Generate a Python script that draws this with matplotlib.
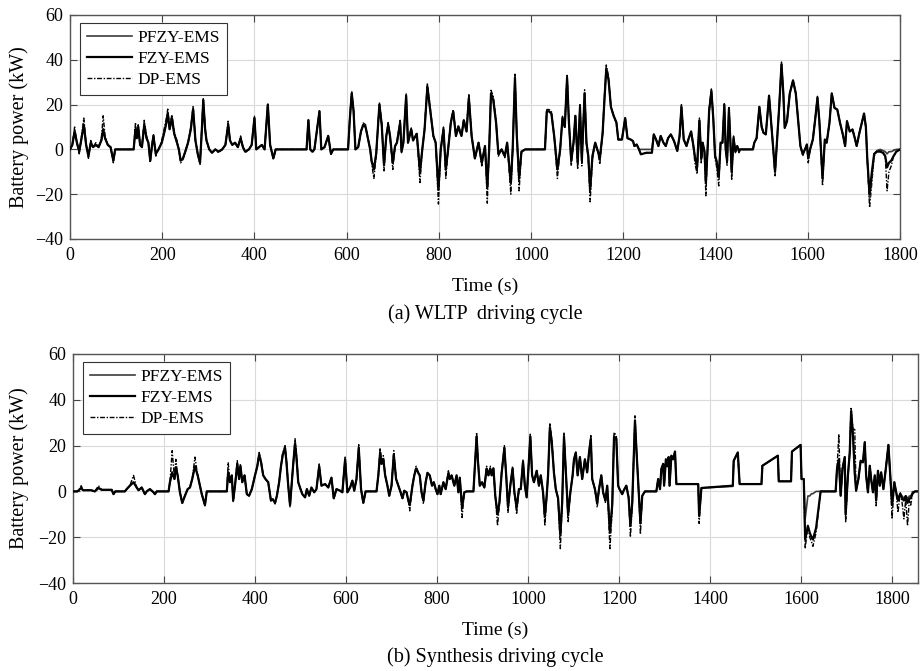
import matplotlib
matplotlib.use('Agg')
import matplotlib.pyplot as plt

plt.rcParams['font.family'] = ['Liberation Serif', 'DejaVu Serif']

# ---------------- (a) WLTP driving cycle ----------------
wltp_t = [0, 5, 10, 15, 20, 25, 30, 35, 40, 45,
          50, 56, 62, 68, 72, 76, 82, 88, 94, 98,
          138, 142, 145, 148, 152, 156, 161, 166, 170, 174,
          178, 181, 186, 192, 199, 205, 209, 212, 216, 221,
          226, 232, 236, 240, 245, 250, 256, 262, 267, 272,
          277, 282, 286, 289, 293, 296, 302, 308, 315, 322,
          330, 337, 343, 347, 352, 358, 364, 370, 375, 380,
          388, 394, 400, 404, 410, 416, 422, 429, 434, 441,
          446, 513, 517, 521, 526, 530, 541, 545, 552, 560,
          566, 571, 603, 607, 611, 615, 619, 625, 631, 636,
          641, 646, 651, 654, 659, 664, 671, 676, 681, 686,
          690, 694, 700, 705, 709, 716, 719, 723, 729, 733,
          740, 744, 752, 759, 764, 769, 775, 781, 788, 793,
          799, 804, 810, 815, 820, 826, 831, 837, 842, 849,
          854, 860, 865, 871, 878, 886, 893, 900, 905, 909,
          913, 918, 924, 929, 936, 943, 948, 956, 960, 965,
          969, 974, 979, 987, 1030, 1034, 1039, 1044, 1050, 1057,
          1063, 1068, 1073, 1078, 1082, 1087, 1092, 1096, 1101, 1106,
          1110, 1116, 1120, 1124, 1128, 1133, 1139, 1145, 1149, 1155,
          1159, 1163, 1168, 1173, 1179, 1185, 1189, 1197, 1204, 1209,
          1216, 1221, 1224, 1229, 1234, 1238, 1250, 1262, 1266, 1271,
          1276, 1281, 1287, 1292, 1297, 1303, 1310, 1317, 1322, 1326,
          1331, 1337, 1341, 1347, 1352, 1355, 1360, 1365, 1369, 1372,
          1376, 1379, 1383, 1386, 1391, 1395, 1399, 1402, 1407, 1411,
          1415, 1419, 1422, 1425, 1429, 1433, 1435, 1439, 1443, 1447,
          1451, 1453, 1481, 1484, 1489, 1495, 1500, 1504, 1509, 1516,
          1523, 1529, 1534, 1538, 1543, 1547, 1550, 1555, 1561, 1568,
          1574, 1579, 1584, 1589, 1594, 1598, 1601, 1605, 1611, 1616,
          1621, 1625, 1629, 1632, 1637, 1641, 1647, 1652, 1658, 1664,
          1670, 1676, 1681, 1685, 1691, 1697, 1702, 1706, 1712, 1717,
          1722, 1726, 1729, 1734, 1739, 1744, 1750, 1757, 1763, 1768,
          1772, 1776, 1781, 1786, 1792, 1800]

wltp_dp = [0, 2, 10, 3, -2, 6, 14, 2, -4, 4,
           1, 3, 1, 5, 15, 6, 2, 1, -6, 0,
           0, 12, 6, 11, 2, 1, 13, 6, 3, -6,
           2, 7, -3, 0, 4, 10, 14, 18, 10, 15.5,
           8, 4, 0, -6, -4.5, -1, 3, 10, 19.5, 4.4,
           -2, -6.7, 10, 23, 10, 4, 0, -1.5, 0, -1.5,
           0, 2, 12.6, 4, 2, 3, 1, 6, 1, -1.5,
           0, 2, 14.8, 0, 1, 2, 0, 20.7, 2, -4.4,
           0, 0, 13.6, 0, -1.5, 0, 17.3, 0, 1, 6.2,
           -2.2, 0, 0, 15, 26, 18, 0, 1, 8, 11.8,
           11, 5, 0, -6, -13, -3, 21, 12, -9.6, 6,
           12, 6, -9, 1.5, 3, 13, -1.5, 3, 25, 3,
           9.6, 4, 7.4, -14.8, 0, 10, 29.6, 19, 6, 3,
           -24.4, 0, 10, -13, 0, 13, 17.8, 6, 11, 6.7,
           13.3, 8.9, 24.4, 6, -4.4, 3, -7.4, 1.5, -24, 0,
           26.4, 23.7, 13, -3, 0, -3.7, 3, -20, 0, 33.6,
           6, -18.5, -1.5, 0, 0, 17.8, 17.8, 17, 6, -13,
           0, 14.8, 10, 33.6, 13, -7.4, 3, 15.5, -8.9, 20,
           -7.4, 26.6, 3, -4.4, -23.4, -4.4, 3, -1.5, -6.7, 7.4,
           23.7, 37.7, 32.6, 19, 14.8, 11.8, 4.4, 4.4, 14, 5,
           4.4, 3.7, 1.5, 2.2, 0, -2.2, -1.5, -1.5, 6.7, 4.4,
           1.5, 6, 3, 1.5, 5, 6.7, 3.7, -0.7, 6, 20,
           4.4, 1.5, 4.4, 8, 1.5, -6, -11, 14, -6, 3,
           -1.5, -20.7, 1.5, 17.8, 27, 14.8, -4.4, -7.4, -16.3, 3,
           3, 20.4, 0, -7.4, 19.2, 0, -13.8, 6, -1.5, 1.5,
           -1.5, 0, 0, 3, 5, 19, 10, 7.4, 6.7, 24,
           6, -11.8, 6, 19, 39, 25, 9.6, 12.6, 25, 30.8,
           25, 13.3, 1.5, -3, 0, 2.2, -6, 0, 4.4, 13.3,
           23.7, 13.3, -3, -16.3, 4.4, 3, 11.8, 25, 18.5, 17.8,
           11.8, 6.7, 1.5, 12.6, 8, 8.9, 5, 1.5, 7.4, 11.8,
           16, 10, -4.4, -26, -14.8, -3, -0.7, -0.3, -0.7, -3,
           -18.5, -10, -7.4, -3, -1, 0]

wltp_fzy = [0, 2, 8, 3, -1, 5, 11, 2, -3, 3,
            1, 2, 1, 4, 9, 5, 2, 1, -5, 0,
            0, 9, 5, 10, 2, 1, 11, 5, 3, -5,
            2, 6, -2, 0, 3, 8, 12, 16, 9, 14,
            7, 3, 0, -5, -4, -1, 3, 9, 18, 4,
            -2, -6, 9, 22, 9, 4, 0, -1.5, 0, -1,
            0, 2, 11, 4, 2, 3, 1, 5, 1, -1,
            0, 2, 14, 0, 1, 2, 0, 20, 2, -4,
            0, 0, 13, 0, -1, 0, 17, 0, 1, 6,
            -2, 0, 0, 14, 25, 17, 0, 1, 8, 11,
            10, 5, 0, -5, -9, -2, 20, 11, -7, 6,
            11, 6, -6, 1.5, 3, 12, -1, 3, 24, 3,
            9, 4, 7, -10, 0, 9, 28, 18, 6, 3,
            -18, 0, 9, -9, 0, 12, 17, 6, 10, 6,
            13, 8, 23, 6, -4, 3, -6, 1.5, -17, 0,
            25, 22, 12, -2, 0, -3, 3, -15, 0, 32,
            6, -13, -1, 0, 0, 17, 17, 16, 6, -9,
            0, 14, 10, 32, 12, -5, 3, 15, -6, 19,
            -5, 25, 3, -3, -18, -3, 3, -1, -4, 7,
            22, 36, 31, 19, 15, 12, 4.4, 4.4, 14, 5,
            4.4, 3.7, 1.5, 2.2, 0, -2.2, -1.5, -1.5, 6.7, 4.4,
            1.5, 6, 3, 1.5, 5, 6.7, 3.7, -0.7, 6, 19,
            4.4, 1.5, 4.4, 8, 1.5, -3, -8, 13, -4, 3,
            -1, -15, 1.5, 17, 26, 14, -3, -5, -12, 3,
            3, 20, 0, -5, 18, 0, -10, 5, -1, 1.5,
            -1, 0, 0, 3, 5, 19, 10, 7.4, 6.7, 24,
            6, -10, 6, 19, 38, 25, 9.6, 12.6, 25, 30.8,
            25, 13.3, 1.5, -2, 0, 2.2, -4, 0, 4.4, 13.3,
            23, 13, -2, -13, 4.4, 3, 11.8, 25, 18.5, 17.8,
            11.8, 6.7, 1.5, 12.6, 8, 8.9, 5, 1.5, 7.4, 11.8,
            16, 10, -4, -20, -10, -2, -1, -1, -1.5, -3,
            -8, -6, -5, -3, -1, 0]

wltp_pfzy = [0, 2, 8, 3, -1, 5, 11, 2, -3, 3,
             1, 2, 1, 4, 9, 5, 2, 1, -5, 0,
             0, 9, 5, 10, 2, 1, 11, 5, 3, -5,
             2, 6, -2, 0, 3, 8, 12, 16, 9, 14,
             7, 3, 0, -5, -4, -1, 3, 9, 18, 4,
             -2, -6, 9, 22, 9, 4, 0, -1.5, 0, -1,
             0, 2, 11, 4, 2, 3, 1, 5, 1, -1,
             0, 2, 14, 0, 1, 2, 0, 20, 2, -4,
             0, 0, 13, 0, -1, 0, 17, 0, 1, 6,
             -2, 0, 0, 14, 25, 17, 0, 1, 8, 11,
             10, 5, 0, -5, -9, -2, 20, 11, -7, 6,
             11, 6, -6, 1.5, 3, 12, -1, 3, 24, 3,
             9, 4, 7, -10, 0, 9, 28, 18, 6, 3,
             -18, 0, 9, -9, 0, 12, 17, 6, 10, 6,
             13, 8, 23, 6, -4, 3, -6, 1.5, -17, 0,
             25, 22, 12, -2, 0, -3, 3, -15, 0, 32,
             6, -13, -1, 0, 0, 17, 17, 16, 6, -9,
             0, 14, 10, 32, 12, -5, 3, 15, -6, 19,
             -5, 25, 3, -3, -18, -3, 3, -1, -4, 7,
             22, 36, 31, 19, 15, 12, 4.4, 4.4, 14, 5,
             4.4, 3.7, 1.5, 2.2, 0, 0, 0, 0, 6.7, 4.4,
             1.5, 6, 3, 1.5, 5, 6.7, 3.7, -0.7, 6, 19,
             4.4, 1.5, 4.4, 8, 1.5, -3, -8, 13, -4, 3,
             -1, -15, 1.5, 17, 26, 14, -3, -5, -12, 3,
             3, 20, 0, -5, 18, 0, -10, 5, -1, 1.5,
             -1, 0, 0, 3, 5, 19, 10, 7.4, 6.7, 24,
             6, -10, 6, 19, 38, 25, 9.6, 12.6, 25, 30.8,
             25, 13.3, 1.5, -2, 0, 2.2, -4, 0, 4.4, 13.3,
             23, 13, -2, -13, 4.4, 3, 11.8, 25, 18.5, 17.8,
             11.8, 6.7, 1.5, 12.6, 8, 8.9, 5, 1.5, 7.4, 11.8,
             16, 10, -4, -22, -12, -2, -0.5, 0, -0.5, -1,
             -2, -1, -1, -0.5, 0, 0]

# ---------------- (b) Synthesis driving cycle ----------------
syn_t = [0, 10, 15, 18, 22, 30, 40, 48, 56, 63,
         85, 89, 93, 114, 118, 125, 133, 140, 144, 151,
         158, 162, 169, 177, 180, 184, 210, 213, 218, 223,
         226, 230, 235, 240, 246, 252, 257, 262, 268, 274,
         279, 283, 290, 294, 338, 341, 345, 349, 352, 356,
         361, 365, 368, 372, 377, 382, 387, 393, 400, 405,
         409, 413, 418, 423, 429, 435, 439, 444, 448, 453,
         457, 461, 466, 469, 473, 477, 480, 484, 488, 491,
         495, 500, 504, 510, 514, 519, 524, 530, 535, 541,
         546, 554, 561, 568, 573, 579, 587, 592, 598, 603,
         609, 614, 618, 623, 628, 633, 638, 643, 660, 667,
         671, 675, 678, 682, 686, 691, 695, 700, 705, 710,
         715, 720, 724, 728, 733, 737, 740, 746, 750, 754,
         759, 762, 766, 770, 775, 779, 784, 789, 793, 797,
         801, 805, 808, 814, 819, 825, 828, 832, 838, 843,
         847, 850, 855, 860, 865, 880, 883, 887, 890, 894,
         899, 904, 909, 913, 917, 920, 924, 928, 933, 937,
         942, 948, 952, 956, 961, 966, 970, 975, 980, 984,
         989, 993, 997, 1000, 1005, 1009, 1013, 1019, 1024, 1028,
         1033, 1037, 1041, 1044, 1048, 1052, 1057, 1061, 1066, 1071,
         1075, 1079, 1084, 1088, 1093, 1098, 1101, 1105, 1109, 1114,
         1119, 1125, 1130, 1134, 1138, 1141, 1147, 1152, 1156, 1161,
         1165, 1170, 1174, 1180, 1185, 1189, 1194, 1198, 1201, 1207,
         1210, 1216, 1221, 1225, 1229, 1235, 1238, 1243, 1247, 1251,
         1257, 1282, 1286, 1290, 1293, 1297, 1299, 1303, 1306, 1309,
         1311, 1315, 1319, 1323, 1326, 1374, 1376, 1378, 1381, 1450,
         1452, 1461, 1465, 1513, 1515, 1549, 1551, 1578, 1580, 1599,
         1601, 1606, 1609, 1615, 1619, 1623, 1626, 1633, 1643, 1676,
         1679, 1683, 1687, 1691, 1696, 1698, 1703, 1707, 1710, 1714,
         1718, 1721, 1726, 1731, 1736, 1740, 1743, 1747, 1751, 1754,
         1758, 1762, 1765, 1769, 1773, 1776, 1781, 1787, 1792, 1796,
         1800, 1805, 1809, 1813, 1818, 1822, 1826, 1830, 1834, 1838,
         1841, 1845, 1850, 1857]

syn_dp = [0, 0, 1, 2.5, 0.5, 0.5, 0.5, 0, 2.5, 0.7,
          0.7, -1.2, 0, 0, 1, 2.5, 7, 1.7, 0.5, 1.7,
          -1.2, 0, 1, -0.4, -1.2, 0, 0, 4, 17.8, 5.4,
          14, 7, -0.4, -5.5, -1.9, 1, 1.7, 5.4, 15, 7,
          2.5, -1.2, -6.3, 0, 0, 12.7, 4, 7, -4.8, 2.5,
          13.4, 5.4, 12, 4, 7, -1.2, -1.9, 1, 7, 11,
          17, 14, 7, 5.4, 4, -4, -3.4, -5.5, -2, 4,
          11, 17, 20, 14, 2.5, -7, 1.7, 12.7, 23, 17,
          4, 1, -1.2, -2.6, 1, -1.9, 1.7, -0.4, 1, 12,
          2.5, 3.2, 1.7, 6, -3.4, 1, 0.3, -0.4, 15, -0.4,
          1.7, 4.7, 0.3, 5.4, 20.4, 1, -5.3, 0, 0, 0,
          7, 19, 12.7, 15.6, 7, 2.5, -1.9, 2.5, 17.8, 5.4,
          2.5, -0.4, -3.4, 0.3, -0.4, -4, -8.5, 2.5, 7, 11,
          8.3, 7, -0.4, -5.5, 4, 8.3, 7, 2.5, 4, 1,
          -1.2, 2.5, -1.2, 4, 1, 9, 5.4, 7, 2.5, 7,
          -0.4, 6, -11.4, -0.4, 0, 0, 11, 25.8, 14, 2.5,
          4, 1.7, 11, 7, 11, 7, 10.5, -1.9, -15, -6.3,
          8.3, 20, 7, -9.2, 2.5, 11, -0.4, -10, 1, 1,
          14, 2.5, -2.6, 7, 25, 7, 4, 9, 2.5, 7,
          -0.4, -15, -1.9, 7, 29.5, 23, 8.3, 1, -3.4, -25,
          -6.3, 25.8, 5.4, -13.6, -0.4, 7, 14, 17, 7, 15,
          5.4, 14, 8.3, 17, 24.4, 5.4, 1, -7, 1, 7,
          -0.4, -4.8, 2.5, -25, -7.7, 25.8, 24.4, 2.5, 1, -1.2,
          0.3, 2.5, -2.6, -20, -6.3, 33, 20, 0.3, -18.7, -1.9,
          0, 0, 5.4, 1, 9.8, 12, 2.5, 14, 11, 15,
          2.5, 15.6, 14, 17.4, 3.2, 3.2, -14, -8, 1.5, 2.5,
          13.4, 17, 3.2, 3.2, 11.2, 15.6, 4.4, 4.4, 17.4, 20.3,
          5.4, 5.4, -25, -15, -20, -22, -24, -18, 0, 0,
          9.8, 25, -1.9, 9.8, 15, -13.6, 7, 17, 36.8, 27.3,
          27, 0.3, 5.4, 13.4, 12.7, 21.5, 7, -0.4, 11.2, 5.4,
          -0.4, 7, -6.3, 9, 2.5, 8.3, 1, 11.2, 20.3, 7,
          -12, 4, -0.4, -9.2, -0.4, -4.8, -12, -3.4, -15, -3.4,
          -6, -0.4, 0, 0]

syn_fzy = [0, 0, 1, 1.5, 0.5, 0.5, 0.5, 0, 1.5, 0.7,
           0.7, -1.2, 0, 0, 1, 2.5, 4, 1.7, 0.5, 1.7,
           -1.2, 0, 1, -0.4, -1.2, 0, 0, 4, 8.3, 5.4,
           10.5, 7, -0.4, -5, -1.9, 1, 1.7, 5.4, 11, 7,
           2.5, -1.2, -6, 0, 0, 8.3, 4, 7, -4, 2.5,
           12, 5.4, 11, 4, 7, -1.2, -1.9, 1, 7, 11,
           16, 13, 7, 5.4, 4, -4, -3.4, -5, -2, 4,
           11, 16, 19, 13, 2.5, -6, 1.7, 12, 21, 15,
           4, 1, -1.2, -2.6, 1, -1.9, 1.7, -0.4, 1, 11,
           2.5, 3.2, 1.7, 6, -3, 1, 0.3, -0.4, 14, -0.4,
           1.7, 4.7, 0.3, 5.4, 19, 1, -5, 0, 0, 0,
           7, 17, 12, 14, 7, 2.5, -1.9, 2.5, 16, 5.4,
           2.5, -0.4, -3, 0.3, -0.4, -4, -6, 2.5, 7, 10,
           8, 7, -0.4, -4, 4, 8, 7, 2.5, 4, 1,
           -1.2, 2.5, -1.2, 4, 1, 8, 5.4, 7, 2.5, 7,
           -0.4, 6, -7, -0.4, 0, 0, 10, 24, 13, 2.5,
           4, 1.7, 10, 7, 10, 7, 10, -1.9, -10, -5,
           8, 19, 7, -7, 2.5, 10, -0.4, -7, 1, 1,
           13, 2.5, -2.6, 7, 24, 7, 4, 9, 2.5, 7,
           -0.4, -11, -1.9, 7, 28, 22, 8, 1, -3, -19,
           -5, 24, 5.4, -10, -0.4, 7, 14, 17, 7, 15,
           5.4, 14, 8.3, 17, 23, 5.4, 1, -5, 1, 7,
           -0.4, -4, 2.5, -18, -6, 24, 23, 2.5, 1, -1.2,
           0.3, 2.5, -2.6, -15, -5, 31, 19, 0.3, -14, -1.9,
           0, 0, 5.4, 1, 9.8, 12, 2.5, 14, 11, 15,
           2.5, 15.6, 14, 17.4, 3.2, 3.2, -10.7, -6, 1.5, 2.5,
           13.4, 17, 3.2, 3.2, 11.2, 15.6, 4.4, 4.4, 17.4, 20.3,
           5.4, 5.4, -21, -15, -18, -20, -21, -16, 0, 0,
           9.8, 14, -1.9, 9.8, 15, -10, 7, 17, 35, 25,
           8, 0.3, 5.4, 13.4, 12.7, 21.5, 7, -0.4, 11.2, 5.4,
           -0.4, 7, -4, 9, 2.5, 8.3, 1, 11.2, 20.3, 7,
           -6, 4, -0.4, -4, -1, -3, -4, -2, -5, -3,
           -3, -1, 0, 0]

syn_pfzy = [0, 0, 1, 1.5, 0.5, 0.5, 0.5, 0, 1.5, 0.7,
            0.7, -1.2, 0, 0, 1, 2.5, 4, 1.7, 0.5, 1.7,
            -1.2, 0, 1, -0.4, -1.2, 0, 0, 4, 8.3, 5.4,
            10.5, 7, -0.4, -5, -1.9, 1, 1.7, 5.4, 11, 7,
            2.5, -1.2, -6, 0, 0, 8.3, 4, 7, -4, 2.5,
            12, 5.4, 11, 4, 7, -1.2, -1.9, 1, 7, 11,
            16, 13, 7, 5.4, 4, -4, -3.4, -5, -2, 4,
            11, 16, 19, 13, 2.5, -6, 1.7, 12, 21, 15,
            4, 1, -1.2, -2.6, 1, -1.9, 1.7, -0.4, 1, 11,
            2.5, 3.2, 1.7, 6, -3, 1, 0.3, -0.4, 14, -0.4,
            1.7, 4.7, 0.3, 5.4, 19, 1, -5, 0, 0, 0,
            7, 17, 12, 14, 7, 2.5, -1.9, 2.5, 16, 5.4,
            2.5, -0.4, -3, 0.3, -0.4, -4, -6, 2.5, 7, 10,
            8, 7, -0.4, -4, 4, 8, 7, 2.5, 4, 1,
            -1.2, 2.5, -1.2, 4, 1, 8, 5.4, 7, 2.5, 7,
            -0.4, 6, -7, -0.4, 0, 0, 10, 24, 13, 2.5,
            4, 1.7, 10, 7, 10, 7, 10, -1.9, -10, -5,
            8, 19, 7, -7, 2.5, 10, -0.4, -7, 1, 1,
            13, 2.5, -2.6, 7, 24, 7, 4, 9, 2.5, 7,
            -0.4, -11, -1.9, 7, 28, 22, 8, 1, -3, -19,
            -5, 24, 5.4, -10, -0.4, 7, 14, 17, 7, 15,
            5.4, 14, 8.3, 17, 23, 5.4, 1, -5, 1, 7,
            -0.4, -4, 2.5, -18, -6, 24, 23, 2.5, 1, -1.2,
            0.3, 2.5, -2.6, -15, -5, 31, 19, 0.3, -14, -1.9,
            0, 0, 5.4, 1, 9.8, 12, 2.5, 14, 11, 15,
            2.5, 15.6, 14, 17.4, 3.2, 3.2, -10.7, -6, 1.5, 2.2,
            13.4, 17, 3.2, 3.2, 11.2, 15.6, 4.4, 4.4, 17.4, 20.3,
            5.4, 5.4, -12, -2, -2, -1, -1, 0, 0, 0,
            9.8, 14, -1.9, 9.8, 15, -10, 7, 17, 35, 25,
            8, 0.3, 5.4, 13.4, 12.7, 21.5, 7, -0.4, 11.2, 5.4,
            -0.4, 7, -4, 9, 2.5, 8.3, 1, 11.2, 20.3, 7,
            -6, 4, -0.4, -3, -1, -2, -3, -2, -3, -2,
            -2, -0.5, 0, 0]

series_labels = ['PFZY-EMS', 'FZY-EMS', 'DP-EMS']
x_ticks = [0, 200, 400, 600, 800, 1000, 1200, 1400, 1600, 1800]
y_ticks = [-40, -20, 0, 20, 40, 60]
y_ticklabels = ['\u221240', '\u221220', '0', '20', '40', '60']

W, H = 921, 671
fig = plt.figure(figsize=(W / 100, H / 100), dpi=100)


def px_axes(l, t, r, b):
    return fig.add_axes([l / W, 1 - b / H, (r - l) / W, (b - t) / H])


def draw(ax, t, pf, fz, dp, xmax, wpx, hpx):
    ax.plot(t, dp, color='black', lw=1.0, linestyle=(0, (3.5, 1.2, 1, 1.2)),
            label=series_labels[2], zorder=2)
    ax.plot(t, pf, color='#3c3c3c', lw=1.2, label=series_labels[0], zorder=3)
    ax.plot(t, fz, color='black', lw=1.6, label=series_labels[1], zorder=4)
    ax.set_xlim(0, xmax)
    ax.set_ylim(-40, 60)
    ax.set_xticks(x_ticks)
    ax.set_yticks(y_ticks)
    ax.set_yticklabels(y_ticklabels)
    ax.grid(True, color='#dadada', lw=0.8)
    ax.set_axisbelow(True)
    ax.tick_params(direction='in', length=5, width=0.8, top=True, right=True,
                   labelsize=13, color='#444444')
    ax.tick_params(axis='x', pad=6)
    ax.tick_params(axis='y', pad=5)
    for s in ax.spines.values():
        s.set_color('#555555')
        s.set_linewidth(1.0)
    h, l = ax.get_legend_handles_labels()
    order = [1, 2, 0]
    leg = ax.legend([h[i] for i in order], [l[i] for i in order],
                    loc='upper left', bbox_to_anchor=(10 / wpx, 1 - 8 / hpx),
                    borderaxespad=0, frameon=True, fancybox=False,
                    edgecolor='#333333', framealpha=1, fontsize=12.5,
                    handlelength=2.6, handletextpad=0.3, labelspacing=0.28,
                    borderpad=0.4)
    leg.get_frame().set_linewidth(0.8)


ax1 = px_axes(70, 15, 900, 239)
draw(ax1, wltp_t, wltp_pfzy, wltp_fzy, wltp_dp, 1800, 830, 224)
ax2 = px_axes(73, 354, 918, 583)
draw(ax2, syn_t, syn_pfzy, syn_fzy, syn_dp, 1857, 845, 229)

for ax, ty, cy, cap in [(ax1, 286, 314, '(a) WLTP  driving cycle'),
                        (ax2, 630, 657, '(b) Synthesis driving cycle')]:
    pos = ax.get_position()
    xc = pos.x0 + pos.width / 2
    fig.text(xc, 1 - ty / H, 'Time (s)', ha='center', va='center', fontsize=14)
    fig.text(xc, 1 - cy / H, cap, ha='center', va='center', fontsize=14.5)
    fig.text(19 / W, pos.y0 + pos.height / 2, 'Battery power (kW)', rotation=90,
             ha='center', va='center', fontsize=14.5)

fig.savefig('out.png', dpi=100)
